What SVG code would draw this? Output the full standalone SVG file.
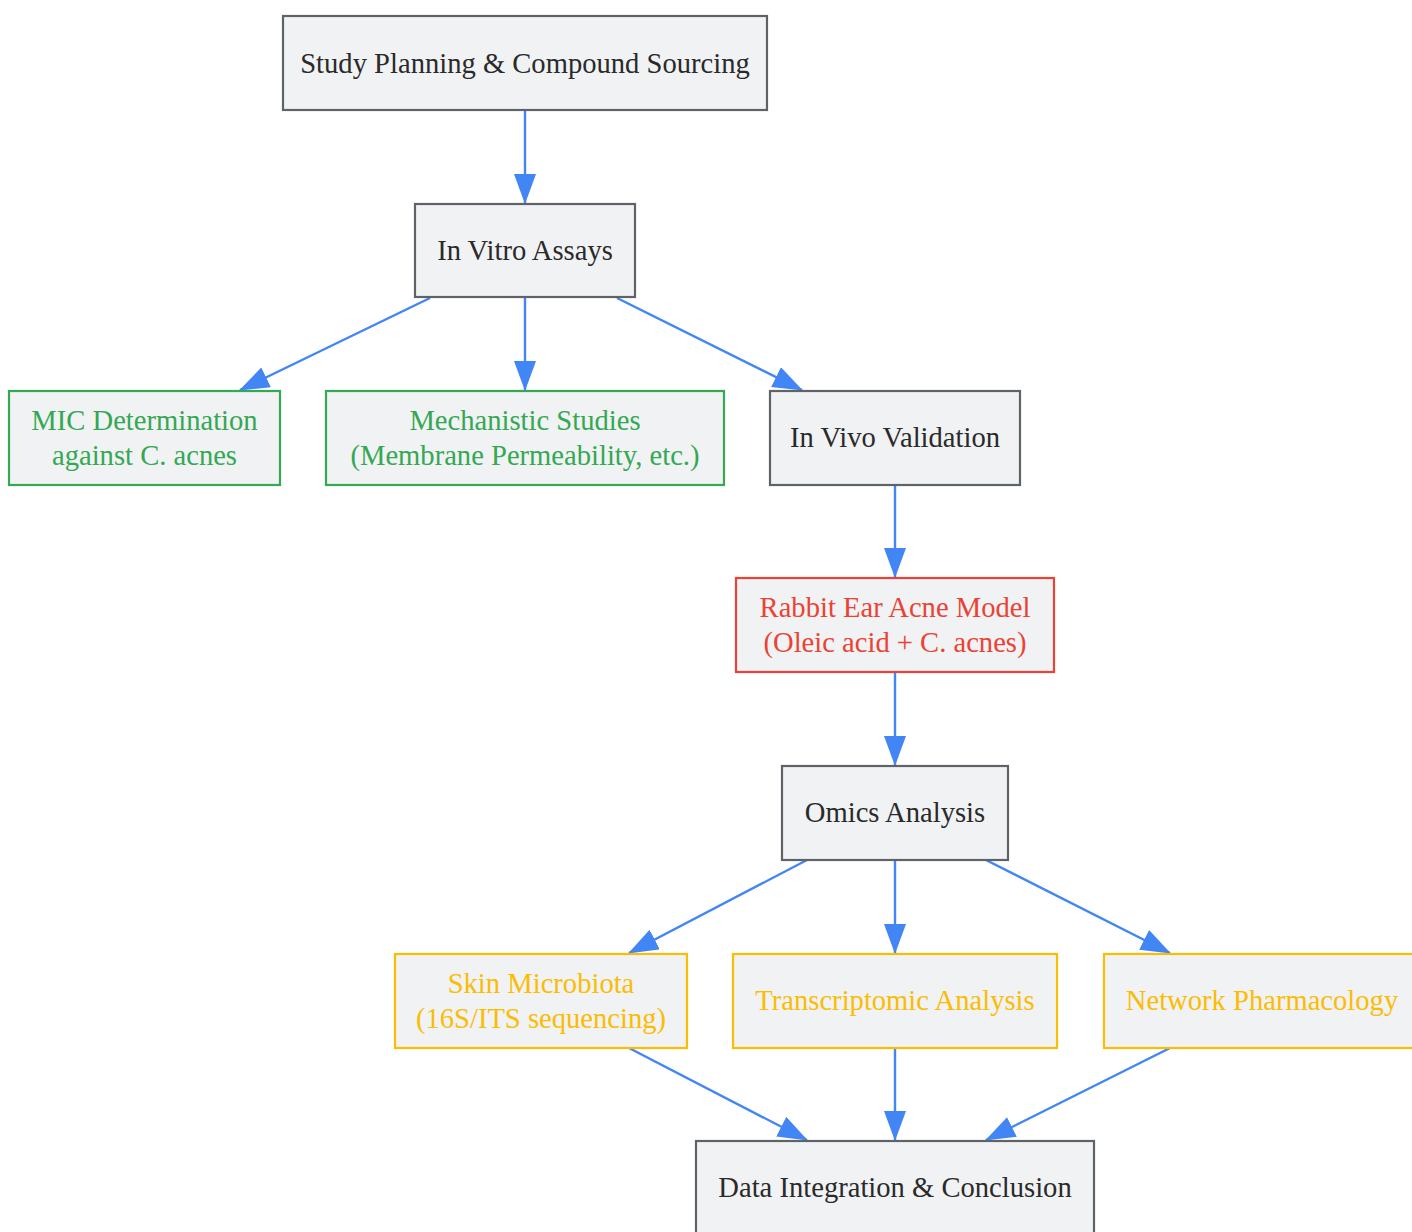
<svg xmlns="http://www.w3.org/2000/svg" width="1412" height="1232" viewBox="0 0 1412 1232">
<style>
.box{fill:#f1f2f4;stroke-width:2.2}
.g .box{stroke:#5f6368}
.gr .box{stroke:#34a853}
.rd .box{stroke:#ea4335}
.yl .box{stroke:#fbbc04}
text{font-family:"Liberation Serif","Times New Roman",serif;font-size:28.6px;text-anchor:middle;dominant-baseline:central}
.g text{fill:#2a2a2a}
.gr text{fill:#34a853}
.rd text{fill:#ea4335}
.yl text{fill:#fbbc04}
.edge{stroke:#4285f4;stroke-width:2.4;fill:none;marker-end:url(#arr)}
</style>
<defs>
<marker id="arr" markerUnits="userSpaceOnUse" markerWidth="30" markerHeight="24" refX="29" refY="11" orient="auto">
<path d="M0,0 L30,11 L0,22 z" fill="#4285f4"/>
</marker>
</defs>
<g id="connectors">
<path class="edge" d="M525,110 L525,203"/>
<path class="edge" d="M430,298 L240,390"/>
<path class="edge" d="M525,297 L525,390"/>
<path class="edge" d="M617,298 L802,390"/>
<path class="edge" d="M895,485 L895,577"/>
<path class="edge" d="M895,672 L895,765"/>
<path class="edge" d="M807,860 L629,953"/>
<path class="edge" d="M895,860 L895,953"/>
<path class="edge" d="M986,860 L1170,953"/>
<path class="edge" d="M629,1048 L807,1140"/>
<path class="edge" d="M895,1048 L895,1140"/>
<path class="edge" d="M1170,1048 L986,1140"/>
</g>
<g id="study" class="g"><rect class="box" x="283" y="16" width="484" height="94"/><text x="525" y="63">Study Planning &amp; Compound Sourcing</text></g>
<g id="invitro" class="g"><rect class="box" x="415" y="204" width="220" height="93"/><text x="525" y="250">In Vitro Assays</text></g>
<g id="mic" class="gr"><rect class="box" x="9" y="391" width="271" height="94"/><text x="144.5" y="420">MIC Determination</text><text x="144.5" y="455">against C. acnes</text></g>
<g id="mech" class="gr"><rect class="box" x="326" y="391" width="398" height="94"/><text x="525" y="420">Mechanistic Studies</text><text x="525" y="455">(Membrane Permeability, etc.)</text></g>
<g id="invivo" class="g"><rect class="box" x="770" y="391" width="250" height="94"/><text x="895" y="437">In Vivo Validation</text></g>
<g id="rabbit" class="rd"><rect class="box" x="736" y="578" width="318" height="94"/><text x="895" y="607">Rabbit Ear Acne Model</text><text x="895" y="642">(Oleic acid + C. acnes)</text></g>
<g id="omics" class="g"><rect class="box" x="782" y="766" width="226" height="94"/><text x="895" y="812">Omics Analysis</text></g>
<g id="skin" class="yl"><rect class="box" x="395" y="954" width="292" height="94"/><text x="541" y="983">Skin Microbiota</text><text x="541" y="1018">(16S/ITS sequencing)</text></g>
<g id="trans" class="yl"><rect class="box" x="733" y="954" width="324" height="94"/><text x="895" y="1000">Transcriptomic Analysis</text></g>
<g id="network" class="yl"><rect class="box" x="1104" y="954" width="316" height="94"/><text x="1262" y="1000">Network Pharmacology</text></g>
<g id="data" class="g"><rect class="box" x="696" y="1141" width="398" height="94"/><text x="895" y="1187">Data Integration &amp; Conclusion</text></g>
</svg>
